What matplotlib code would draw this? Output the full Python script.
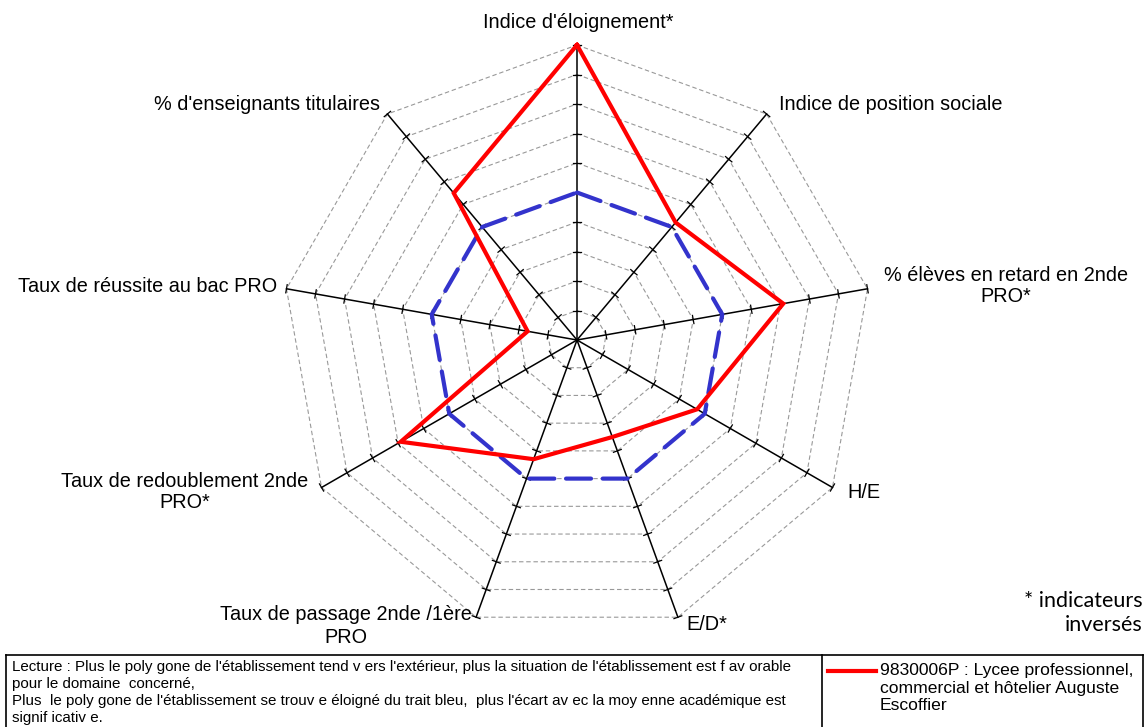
import matplotlib.pyplot as plt
import numpy as np

plt.rcParams['font.family'] = ['Liberation Sans', 'DejaVu Sans']

# axes of the radar, clockwise from the top
labels = ["Indice d'éloignement*", "Indice de position sociale",
          "% élèves en retard en 2nde\nPRO*", "H/E", "E/D*",
          "Taux de passage 2nde /1ère\nPRO", "Taux de redoublement 2nde\nPRO*",
          "Taux de réussite au bac PRO", "% d'enseignants titulaires"]
etab = [1.0, 0.52, 0.71, 0.47, 0.35, 0.43, 0.69, 0.17, 0.65]   # 9830006P
moyenne = [0.5, 0.5, 0.5, 0.5, 0.5, 0.5, 0.5, 0.5, 0.5]       # moyenne académique
niveaux = np.arange(1, 11) / 10

n = len(labels)
ang = np.pi / 2 - np.arange(n) * 2 * np.pi / n
ca, sa = np.cos(ang), np.sin(ang)


def xy(vals):
    v = np.asarray(vals)
    x = v * ca
    y = v * sa
    return np.append(x, x[0]), np.append(y, y[0])


W, H = 1147, 727
cx, cy, R = 577, 340, 295
fig = plt.figure(figsize=(W / 100, H / 100), dpi=100)
ax = fig.add_axes([0, 0, 1, 1])
ax.set_xlim(-cx / R, (W - cx) / R)
ax.set_ylim(-(H - cy) / R, cy / R)
ax.axis('off')

# grille
for lv in niveaux:
    gx, gy = xy([lv] * n)
    ax.plot(gx, gy, color='#999999', lw=0.8, dashes=(4, 2.5), zorder=1)

# axes + graduations
tl = 0.014
for i in range(n):
    ax.plot([0, ca[i]], [0, sa[i]], color='black', lw=1.1, zorder=2)
    px, py = -sa[i], ca[i]
    for lv in niveaux:
        ax.plot([lv * ca[i] - tl * px, lv * ca[i] + tl * px],
                [lv * sa[i] - tl * py, lv * sa[i] + tl * py],
                color='black', lw=0.9, zorder=2)

mx, my = xy(moyenne)
ax.plot(mx, my, color='#3333cc', lw=3, dashes=(6, 2.8), solid_capstyle='round',
        dash_capstyle='round', zorder=3)
ex, ey = xy(etab)
ax.plot(ex, ey, color='#ff0000', lw=3, solid_joinstyle='miter', zorder=4)

# libellés (positions en pixels, ha, interligne)
pos = [(578, 23, 'center', 1.2), (779, 105, 'left', 1.2), (1006, 286, 'center', 1.1),
       (847, 493, 'left', 1.2), (686, 625, 'left', 1.2), (346, 626, 'center', 1.3),
       (185, 492, 'center', 1.15), (277, 287, 'right', 1.2), (380, 105, 'right', 1.2)]
for lab, (px_, py_, ha, ls) in zip(labels, pos):
    fig.text(px_ / W, 1 - py_ / H, lab, ha=ha, va='center', multialignment='center',
             fontsize=14.3, linespacing=ls)

fig.text(1143 / W, 1 - 613 / H, "* indicateurs\ninversés", ha='right', va='center',
         multialignment='right', fontsize=15.5, family=['Lato', 'DejaVu Sans'], linespacing=1.3)

# cadre du bas
top, sep, left, right = 655, 822, 6, 1143
ax.plot([(left - cx) / R, (right - cx) / R], [(cy - top) / R] * 2, color='black', lw=1.2)
for xv in (left, sep, right):
    ax.plot([(xv - cx) / R] * 2, [(cy - top) / R, (cy - H) / R - 0.01], color='black', lw=1.2)

lecture = ("Lecture : Plus le poly gone de l'établissement tend v ers l'extérieur, plus la situation de l'établissement est f av orable\n"
           "pour le domaine  concerné,\n"
           "Plus  le poly gone de l'établissement se trouv e éloigné du trait bleu,  plus l'écart av ec la moy enne académique est\n"
           "signif icativ e.")
fig.text(12 / W, 1 - 660 / H, lecture, ha='left', va='top', fontsize=10.9, linespacing=1.28)

ax.plot([(828 - cx) / R, (876 - cx) / R], [(cy - 671) / R] * 2, color='#ff0000', lw=3)
fig.text(880 / W, 1 - 663 / H, "9830006P : Lycee professionnel,\ncommercial et hôtelier Auguste\nEscoffier",
         ha='left', va='top', fontsize=12.6, linespacing=1.22)

fig.savefig('out.png', dpi=100)
